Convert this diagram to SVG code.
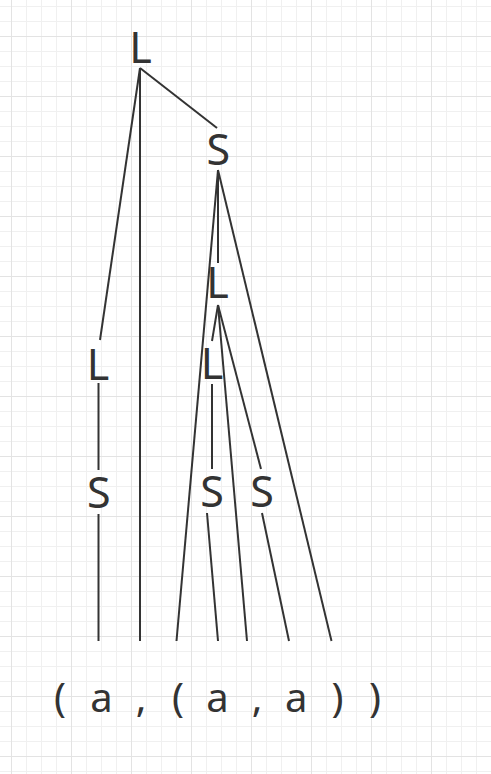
<svg xmlns="http://www.w3.org/2000/svg" width="491" height="774" viewBox="0 0 491 774">
<style>
.n{font-family:"Noto Sans","Open Sans",sans-serif;font-size:43px;fill:#333;text-anchor:middle}
.t{font-family:"Noto Sans","Open Sans",sans-serif;font-size:40px;fill:#333;text-anchor:middle}
.e line{stroke:#333;stroke-width:2;stroke-linecap:butt}
</style>
<defs>
<pattern id="grid" patternUnits="userSpaceOnUse" x="11" y="36" width="60" height="60">
<path d="M15.5 0V60M30.5 0V60M45.5 0V60M0 15.5H60M0 30.5H60M0 45.5H60" stroke="#f0f0f0" stroke-width="1" fill="none"/>
<path d="M0.5 0V60M0 0.5H60" stroke="#e3e3e3" stroke-width="1" fill="none"/>
</pattern>
</defs>
<rect width="491" height="774" fill="#fff"/>
<rect width="491" height="774" fill="url(#grid)"/>
<g class="e" id="connectors">
<line x1="140" y1="68" x2="217" y2="128"/>
<line x1="140" y1="68" x2="100" y2="340"/>
<line x1="140" y1="68" x2="140" y2="641"/>
<line x1="98.5" y1="383" x2="98.5" y2="470"/>
<line x1="98.5" y1="514" x2="98.5" y2="641"/>
<line x1="218" y1="170" x2="218" y2="263"/>
<line x1="218" y1="170" x2="176.5" y2="641"/>
<line x1="218" y1="170" x2="331.5" y2="641"/>
<line x1="218" y1="305" x2="212" y2="341"/>
<line x1="218" y1="305" x2="247" y2="641"/>
<line x1="218" y1="305" x2="261" y2="469"/>
<line x1="212" y1="384" x2="212" y2="469"/>
<line x1="207" y1="513" x2="218" y2="641"/>
<line x1="262" y1="513" x2="289" y2="641"/>
</g>
<g id="L_root"><text class="n" x="140.5" y="63.3">L</text></g>
<g id="S_right"><text class="n" x="218.3" y="165">S</text></g>
<g id="L_left"><text class="n" x="98" y="379.5">L</text></g>
<g id="S_left"><text class="n" x="98.8" y="508">S</text></g>
<g id="L_mid"><text class="n" x="217.5" y="298.3">L</text></g>
<g id="L_low"><text class="n" x="212" y="378.5">L</text></g>
<g id="S_low"><text class="n" x="212" y="507">S</text></g>
<g id="S_low_right"><text class="n" x="262" y="507">S</text></g>
<g id="sentence">
<text class="t" x="60" y="712">(</text>
<text class="t" x="101.5" y="712">a</text>
<text class="t" x="141" y="712">,</text>
<text class="t" x="178" y="712">(</text>
<text class="t" x="217.5" y="712">a</text>
<text class="t" x="257" y="712">,</text>
<text class="t" x="296.3" y="712">a</text>
<text class="t" x="337.5" y="712">)</text>
<text class="t" x="375" y="712">)</text>
</g>
</svg>
